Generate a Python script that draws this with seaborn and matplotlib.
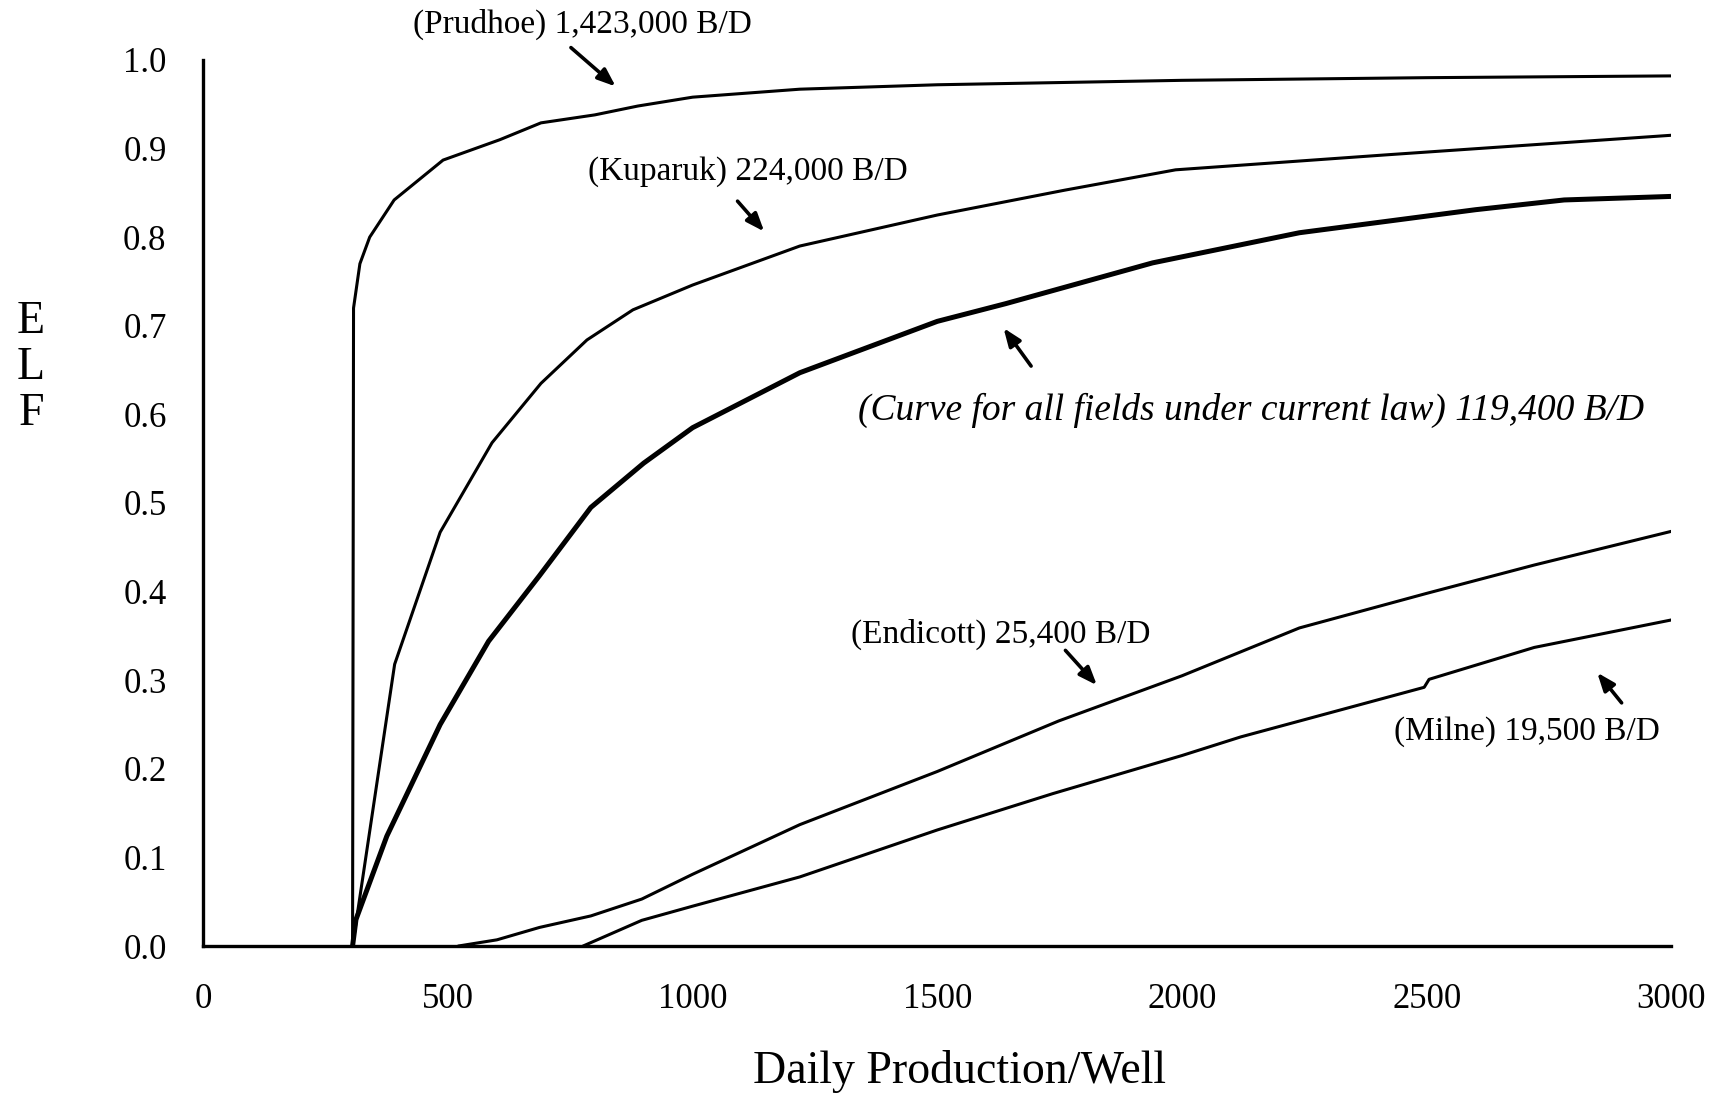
import matplotlib
matplotlib.use("Agg")
import matplotlib.pyplot as plt
import seaborn as sns
import pandas as pd

# ---- data ----
prudhoe_x = [305, 307, 320, 340, 390, 490, 606, 690, 800, 888, 1000, 1219, 1500, 2000, 2500, 3000]
prudhoe_y = [0.0, 0.72, 0.77, 0.80, 0.842, 0.887, 0.910, 0.929, 0.938, 0.948, 0.958, 0.967, 0.972, 0.977, 0.980, 0.982]

kuparuk_x = [305, 391, 484, 590, 690, 784, 878, 1000, 1219, 1500, 1760, 1987, 2420, 3000]
kuparuk_y = [0.0, 0.318, 0.467, 0.568, 0.635, 0.684, 0.718, 0.746, 0.790, 0.825, 0.853, 0.876, 0.893, 0.915]

current_x = [305, 312, 375, 484, 583, 687, 792, 900, 1000, 1219, 1500, 1640, 1940, 2240, 2600, 2781, 3000]
current_y = [0.0, 0.03, 0.124, 0.25, 0.344, 0.418, 0.495, 0.545, 0.585, 0.647, 0.705, 0.725, 0.771, 0.805, 0.831, 0.842, 0.846]

endicott_x = [521, 600, 687, 792, 896, 1000, 1219, 1500, 1748, 2000, 2240, 2500, 2720, 3000]
endicott_y = [0.0, 0.007, 0.021, 0.034, 0.053, 0.081, 0.137, 0.197, 0.254, 0.305, 0.359, 0.398, 0.430, 0.468]

milne_x = [776, 896, 1000, 1219, 1500, 1736, 2000, 2120, 2495, 2505, 2720, 3000]
milne_y = [0.0, 0.029, 0.045, 0.078, 0.131, 0.172, 0.215, 0.236, 0.292, 0.301, 0.337, 0.368]

x_ticks = [0, 500, 1000, 1500, 2000, 2500, 3000]
y_ticks = [0.0, 0.1, 0.2, 0.3, 0.4, 0.5, 0.6, 0.7, 0.8, 0.9, 1.0]

labels = {
    "prudhoe": "(Prudhoe) 1,423,000 B/D",
    "kuparuk": "(Kuparuk) 224,000 B/D",
    "current": "(Curve for all fields under current law) 119,400 B/D",
    "endicott": "(Endicott) 25,400 B/D",
    "milne": "(Milne) 19,500 B/D",
}

# ---- style ----
sns.set_theme(style="white")
plt.rcParams["font.family"] = ["Liberation Serif", "DejaVu Serif"]

fig = plt.figure(figsize=(17.23, 10.98), dpi=100)
ax = fig.add_axes([0.118, 0.1384, 0.852, 0.807])

series = [
    (prudhoe_x, prudhoe_y, 2.2),
    (kuparuk_x, kuparuk_y, 2.2),
    (current_x, current_y, 3.6),
    (endicott_x, endicott_y, 2.2),
    (milne_x, milne_y, 2.2),
]
for xs, ys, lw in series:
    df = pd.DataFrame({"x": xs, "y": ys})
    sns.lineplot(data=df, x="x", y="y", ax=ax, color="black", linewidth=lw,
                 sort=False, estimator=None)

ax.set_xlim(0, 3000)
ax.set_ylim(0, 1.0)
ax.set_xticks(x_ticks)
ax.set_yticks(y_ticks)
ax.set_xticklabels([str(v) for v in x_ticks])
ax.set_yticklabels([f"{v:.1f}" for v in y_ticks])

for s in ["top", "right"]:
    ax.spines[s].set_visible(False)
for s in ["left", "bottom"]:
    ax.spines[s].set_color("black")
    ax.spines[s].set_linewidth(2.4)

ax.tick_params(axis="both", direction="inout", length=13, width=2.2, color="black",
               labelsize=25, labelcolor="black")
ax.tick_params(axis="x", pad=20)
ax.tick_params(axis="y", pad=20)

ax.set_xlabel("Daily Production/Well", fontsize=33, color="black")
ax.xaxis.set_label_coords(0.515, -0.117)
ax.set_ylabel("")
fig.text(0.018, 0.665, "E\nL\nF", fontsize=33, ha="center", va="center",
         linespacing=1.1, color="black")

# ---- annotations ----
annots = [
    (labels["prudhoe"], (774, 1.04), (747, 1.016), (847, 0.968), "normal"),
    (labels["kuparuk"], (1113, 0.874), (1088, 0.843), (1150, 0.804), "normal"),
    (labels["current"], (2142, 0.605), (1695, 0.652), (1632, 0.700), "italic"),
    (labels["endicott"], (1630, 0.352), (1758, 0.336), (1830, 0.292), "normal"),
    (labels["milne"], (2704, 0.2415), (2902, 0.272), (2845, 0.311), "normal"),
]
for text, tpos, tail, head, style in annots:
    ax.text(tpos[0], tpos[1], text, fontsize=27 if style == "italic" else 24,
            style=style, ha="center", va="center", color="black", clip_on=False)
    ax.annotate("", xy=head, xytext=tail,
                arrowprops=dict(arrowstyle="-|>,head_length=0.9,head_width=0.35",
                                color="black", lw=2.6),
                annotation_clip=False)

fig.savefig("out.png", dpi=100, facecolor="white")
